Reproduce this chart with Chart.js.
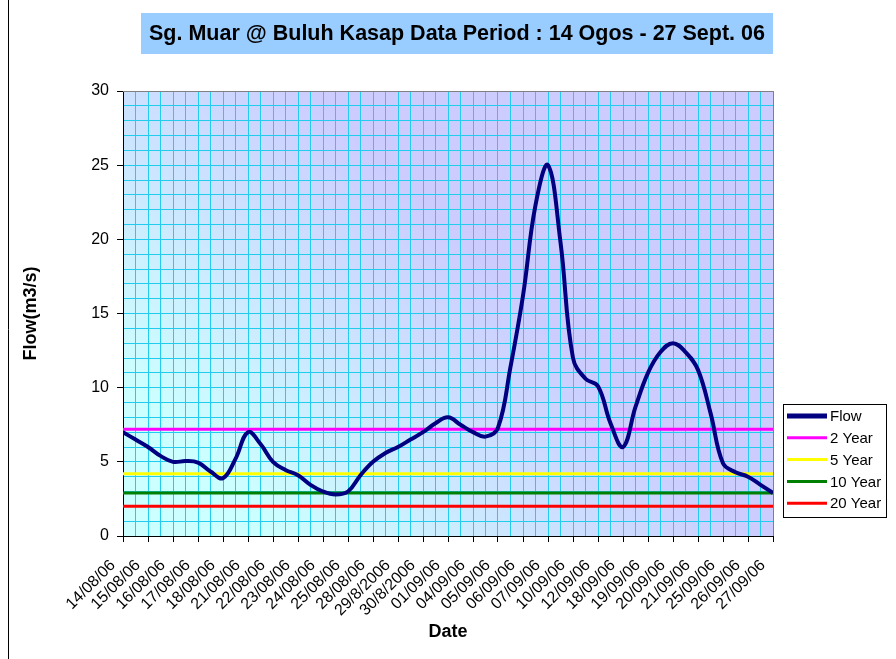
<!DOCTYPE html>
<html>
<head>
<meta charset="utf-8">
<title>Sg. Muar @ Buluh Kasap</title>
<script src="https://cdn.jsdelivr.net/npm/chart.js@4/dist/chart.umd.min.js"></script>
<style>
  html, body { margin: 0; padding: 0; background: #fff; }
  #wrap { width: 896px; height: 659px; }
</style>
</head>
<body>
<div id="wrap"><canvas id="chartFlow" width="896" height="659"></canvas></div>
<script>
// Date labels on the x axis (one per major tick)
var dateLabels = ['14/08/06', '15/08/06', '16/08/06', '17/08/06', '18/08/06', '21/08/06', '22/08/06',
  '23/08/06', '24/08/06', '25/08/06', '28/08/06', '29/8/2006', '30/8/2006', '01/09/06', '04/09/06',
  '05/09/06', '06/09/06', '07/09/06', '10/09/06', '12/09/06', '18/09/06', '19/09/06', '20/09/06',
  '21/09/06', '25/09/06', '26/09/06', '27/09/06'];

// Flow readings (m3/s), two per label step (morning / evening)
var flowValues = [7.0, 6.5, 6.0, 5.4, 5.0, 5.05, 4.95, 4.35, 3.9, 5.2, 7.0, 6.2, 5.0, 4.45, 4.1,
  3.45, 3.0, 2.8, 3.0, 4.1, 5.0, 5.6, 6.0, 6.5, 7.0, 7.6, 8.0, 7.5, 7.0, 6.7, 7.3, 11.4, 16.2,
  22.3, 25.0, 19.8, 12.0, 10.6, 10.1, 7.6, 6.0, 8.7, 11.0, 12.4, 13.0, 12.4, 11.2, 8.3, 4.9, 4.3,
  4.0, 3.45, 2.9];

// Return period design flows
var returnNames = ['2 Year', '5 Year', '10 Year', '20 Year'];
var returnFlows = [7.2, 4.2, 2.9, 2.0];
var returnColors = ['#FF00FF', '#FFFF00', '#008000', '#FF0000'];

var FONT = 'Arial, "Liberation Sans", sans-serif';
var lastIndex = dateLabels.length - 1;

var datasets = [{
  label: 'Flow',
  data: flowValues.map(function (v, i) { return { x: i / 2, y: v }; }),
  borderColor: '#000080',
  backgroundColor: '#000080',
  borderWidth: 4,
  pointRadius: 0,
  tension: 0.4,
  fill: false
}];
returnNames.forEach(function (name, k) {
  datasets.push({
    label: name,
    data: [{ x: 0, y: returnFlows[k] }, { x: lastIndex, y: returnFlows[k] }],
    borderColor: returnColors[k],
    backgroundColor: returnColors[k],
    borderWidth: 3,
    pointRadius: 0,
    fill: false
  });
});

// Plot background, frame, title box and legend, drawn like the Excel original
var excelLook = {
  id: 'excelLook',
  beforeDraw: function (chart) {
    var a = chart.chartArea, c = chart.ctx;
    var g = c.createLinearGradient(a.left, a.bottom, a.left + 320, a.bottom - 320);
    g.addColorStop(0, '#CCFFFF');
    g.addColorStop(0.25, '#CCFFFF');
    g.addColorStop(1, '#CCCCFF');
    c.save();
    c.fillStyle = g;
    c.fillRect(a.left, a.top, a.right - a.left, a.bottom - a.top);
    c.restore();
  },
  afterDraw: function (chart) {
    var a = chart.chartArea, c = chart.ctx;
    c.save();
    // plot border top / right
    c.strokeStyle = '#808080';
    c.lineWidth = 1;
    c.beginPath();
    c.moveTo(a.left, a.top + 0.5);
    c.lineTo(a.right + 0.5, a.top + 0.5);
    c.lineTo(a.right + 0.5, a.bottom);
    c.stroke();
    // outer chart border
    c.strokeStyle = '#000';
    c.beginPath();
    c.moveTo(8.5, 0);
    c.lineTo(8.5, 659);
    c.stroke();
    // title box
    c.fillStyle = '#99CCFF';
    c.fillRect(141, 13, 632, 41);
    c.fillStyle = '#000';
    c.font = 'bold 21.5px ' + FONT;
    c.textAlign = 'center';
    c.textBaseline = 'middle';
    c.fillText('Sg. Muar @ Buluh Kasap Data Period : 14 Ogos - 27 Sept. 06', 457, 34);
    // legend
    var lx = 783, ly = 404, lw = 103, lh = 113;
    c.fillStyle = '#fff';
    c.fillRect(lx, ly, lw, lh);
    c.strokeStyle = '#000';
    c.strokeRect(lx + 0.5, ly + 0.5, lw, lh);
    c.font = '15px ' + FONT;
    c.textAlign = 'left';
    chart.data.datasets.forEach(function (ds, i) {
      var y = ly + 12 + i * 21.8;
      c.strokeStyle = ds.borderColor;
      c.lineWidth = i === 0 ? 5 : ds.borderWidth;
      c.beginPath();
      c.moveTo(lx + 4, y);
      c.lineTo(lx + 44, y);
      c.stroke();
      c.fillStyle = '#000';
      c.fillText(ds.label, lx + 47, y + 1);
    });
    c.restore();
  }
};

var ctx = document.getElementById('chartFlow');
var chart = new Chart(ctx, {
  type: 'line',
  data: { datasets: datasets },
  plugins: [excelLook],
  options: {
    responsive: false,
    animation: false,
    devicePixelRatio: 1,
    layout: { padding: { left: 10, right: 123, top: 91, bottom: 10 } },
    plugins: {
      legend: { display: false },
      title: { display: false },
      tooltip: { enabled: false }
    },
    scales: {
      x: {
        type: 'linear',
        min: 0,
        max: lastIndex,
        afterFit: function (scale) { scale.height = 659 - 10 - 536; },
        grid: {
          color: '#22CCEE',
          tickLength: 6,
          tickColor: function (c) { return Number.isInteger(c.tick.value) ? '#000' : 'rgba(0,0,0,0)'; }
        },
        border: { color: '#000', width: 1 },
        ticks: {
          stepSize: 0.5,
          maxTicksLimit: 100,
          autoSkip: false,
          minRotation: 45,
          maxRotation: 45,
          padding: 14,
          labelOffset: -10,
          color: '#000',
          font: { family: FONT, size: 16 },
          callback: function (v) { return Number.isInteger(v) ? dateLabels[v] : ''; }
        },
        title: {
          display: true,
          text: 'Date',
          color: '#000',
          font: { family: FONT, size: 18, weight: 'bold' },
          padding: { top: 0, bottom: 6 }
        }
      },
      y: {
        min: 0,
        max: 30,
        afterFit: function (scale) { scale.width = 123 - 10; },
        grid: {
          color: '#22CCEE',
          tickLength: 6,
          tickColor: function (c) { return c.tick.value % 5 === 0 ? '#000' : 'rgba(0,0,0,0)'; }
        },
        border: { color: '#000', width: 1 },
        ticks: {
          stepSize: 1,
          maxTicksLimit: 100,
          autoSkip: false,
          padding: 8,
          color: '#000',
          font: { family: FONT, size: 16 },
          callback: function (v) { return v % 5 === 0 ? v : ''; }
        },
        title: {
          display: true,
          text: 'Flow(m3/s)',
          color: '#000',
          font: { family: FONT, size: 18, weight: 'bold' },
          padding: { top: 10, bottom: 0 }
        }
      }
    }
  }
});
</script>
</body>
</html>
